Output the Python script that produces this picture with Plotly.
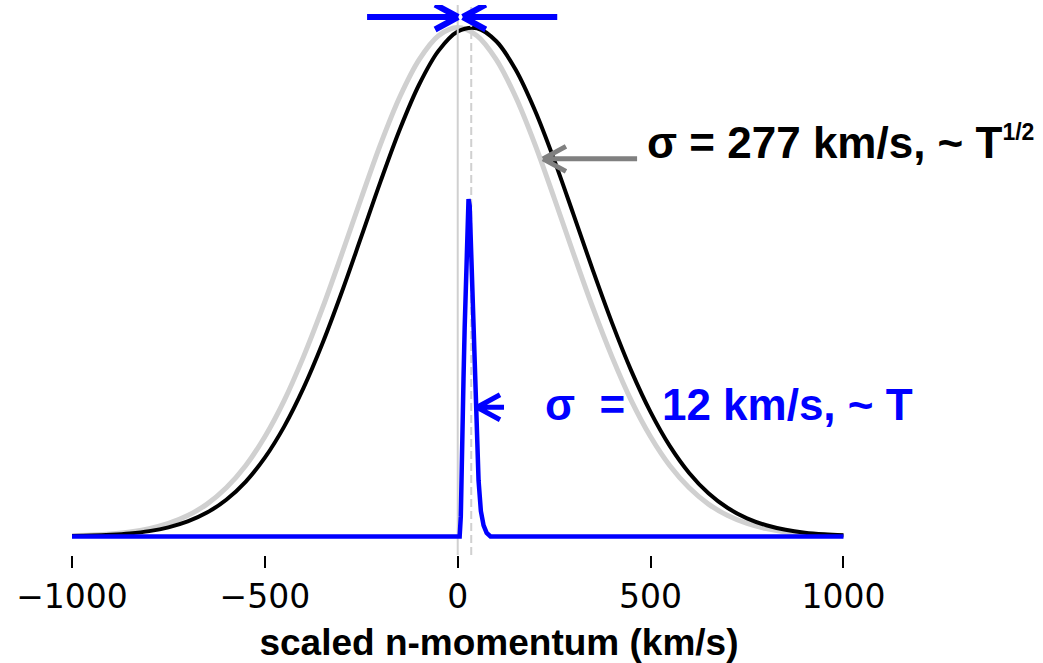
import plotly.graph_objects as go

# ---- data -------------------------------------------------------------
# momentum grid (km/s) for the two broad profiles
GRID_X = [-1000, -950, -900, -850, -800, -750, -700, -650, -600, -550,
          -500, -450, -400, -350, -300, -250, -200, -150, -100, -50,
          0, 50, 100, 150, 200, 250, 300, 350, 400, 450,
          500, 550, 600, 650, 700, 750, 800, 850, 900, 950, 1000]

# broad reference profile, sigma = 277 km/s, centred at 0
GRAY_Y = [0.0015, 0.0028, 0.0051, 0.0090, 0.0155, 0.0256, 0.0411, 0.0637, 0.0957, 0.139,
          0.196, 0.267, 0.353, 0.450, 0.556, 0.665, 0.771, 0.864, 0.937, 0.984,
          1.000, 0.984, 0.937, 0.864, 0.771, 0.665, 0.556, 0.450, 0.353, 0.267,
          0.196, 0.139, 0.0957, 0.0637, 0.0411, 0.0256, 0.0155, 0.0090, 0.0051, 0.0028, 0.0015]

# broad shifted profile, sigma = 277 km/s, centred at ~35 km/s
BLACK_Y = [0.0009, 0.0018, 0.0034, 0.0061, 0.0106, 0.0180, 0.0296, 0.0470, 0.0723, 0.1075,
           0.1549, 0.2159, 0.2914, 0.3806, 0.4813, 0.5890, 0.6977, 0.8001, 0.8880, 0.9540,
           0.9921, 0.9985, 0.9729, 0.9174, 0.8374, 0.7400, 0.6328, 0.5238, 0.4197, 0.3255,
           0.2444, 0.1776, 0.1249, 0.0850, 0.0560, 0.0357, 0.0221, 0.0132, 0.0076, 0.0043, 0.0023]
BLACK_CENTER = 35

# narrow profile, sigma = 12 km/s
BLUE_X = [-1000, 0, 5, 8, 10.5, 13, 15, 18, 21, 25, 28, 31, 33, 36.4, 40, 45,
          50, 54, 60, 67, 75, 85, 1000]
BLUE_Y = [0, 0, 0, 0.04, 0.11, 0.22, 0.31, 0.41, 0.50, 0.63, 0.663, 0.65, 0.60, 0.50, 0.42, 0.31,
          0.20, 0.11, 0.05, 0.022, 0.007, 0, 0]

TICK_VALS = [-1000, -500, 0, 500, 1000]
TICK_TEXT = ["\u22121000", "\u2212500", "0", "500", "1000"]

LABEL_BROAD = "<b>\u03c3 = 277 km/s, ~ T<sup><span style='font-size:23px'>1/2</span></sup></b>"
LABEL_NARROW = "<b>\u03c3\u00a0\u00a0=\u00a0\u00a0\u00a012 km/s, ~ T</b>"
X_TITLE = "<b>scaled n-momentum (km/s)</b>"

# ---- layout geometry --------------------------------------------------
FIG_W, FIG_H = 1043, 663
MARGIN = dict(l=72, r=117, t=5, b=108)
X_RANGE = [-1000, 1214]
Y_RANGE = [-0.0363, 1.0442]

PX_X = (FIG_W - MARGIN["l"] - MARGIN["r"]) / (X_RANGE[1] - X_RANGE[0])
PX_Y = (FIG_H - MARGIN["t"] - MARGIN["b"]) / (Y_RANGE[1] - Y_RANGE[0])

BLUE = "#0000ff"
LIGHT = "#d0d0d0"
TEXT_FONT = "Liberation Sans, Arial"

fig = go.Figure()

fig.add_trace(go.Scatter(x=GRID_X, y=GRAY_Y, mode="lines", line_shape="spline",
                         line=dict(color=LIGHT, width=5), hoverinfo="skip"))
fig.add_trace(go.Scatter(x=GRID_X, y=BLACK_Y, mode="lines", line_shape="spline",
                         line=dict(color="black", width=4), hoverinfo="skip"))

# centre markers: solid at 0, dashed at the shifted centre
fig.add_trace(go.Scatter(x=[0, 0], y=Y_RANGE, mode="lines",
                         line=dict(color=LIGHT, width=2), hoverinfo="skip"))
fig.add_trace(go.Scatter(x=[BLACK_CENTER, BLACK_CENTER], y=Y_RANGE, mode="lines",
                         line=dict(color=LIGHT, width=2, dash="8px,4px"), hoverinfo="skip"))

fig.add_trace(go.Scatter(x=BLUE_X, y=BLUE_Y, mode="lines",
                         line=dict(color=BLUE, width=4.5), hoverinfo="skip"))


def arrow_path(tail_x, tip_x, y, head_len_px, head_half_px):
    """Horizontal arrow with an open chevron head, in data coordinates."""
    sign = 1 if tip_x > tail_x else -1
    back = tip_x - sign * head_len_px / PX_X
    dy = head_half_px / PX_Y
    return (f"M{tail_x},{y} L{tip_x},{y} "
            f"M{back},{y + dy} L{tip_x},{y} "
            f"M{back},{y - dy} L{tip_x},{y}")


ARROWS = [
    # (tail x, tip x, y, colour, width)
    (-235, 1, 1.0206, BLUE, 6),
    (258, 13, 1.0206, BLUE, 6),
    (465, 221, 0.742, "#808080", 5),
    (120, 50, 0.254, BLUE, 5),
]
shapes = []
for tail, tip, yv, col, w in ARROWS:
    shapes.append(dict(type="path", xref="x", yref="y",
                       path=arrow_path(tail, tip, yv, 23, 12.5),
                       line=dict(color=col, width=w), layer="above"))

annotations = [
    dict(x=486, y=0.774, xref="x", yref="y", text=LABEL_BROAD, showarrow=False,
         xanchor="left", yanchor="middle",
         font=dict(family=TEXT_FONT, size=44, color="black")),
    dict(x=222, y=0.26, xref="x", yref="y", text=LABEL_NARROW, showarrow=False,
         xanchor="left", yanchor="middle",
         font=dict(family=TEXT_FONT, size=44, color=BLUE)),
]

fig.update_layout(
    width=FIG_W, height=FIG_H, margin=MARGIN,
    paper_bgcolor="white", plot_bgcolor="white",
    showlegend=False, shapes=shapes, annotations=annotations,
    xaxis=dict(range=X_RANGE, tickvals=TICK_VALS, ticktext=TICK_TEXT,
               ticks="outside", ticklen=12, tickwidth=2, tickcolor="black",
               showline=False, showgrid=False, zeroline=False,
               tickfont=dict(family="DejaVu Sans", size=33, color="black"),
               title=dict(text=X_TITLE, standoff=14,
                          font=dict(family=TEXT_FONT, size=37, color="black")),
               automargin=False),
    yaxis=dict(range=Y_RANGE, visible=False, showgrid=False, zeroline=False),
)

fig.write_html("out.html")
